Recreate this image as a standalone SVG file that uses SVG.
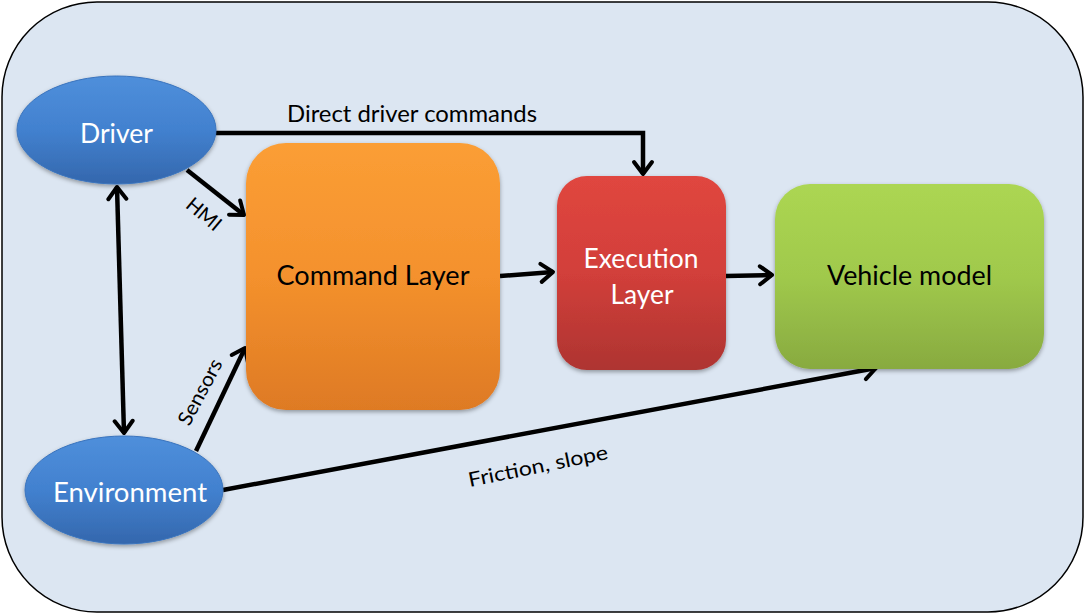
<svg xmlns="http://www.w3.org/2000/svg" width="1085" height="614" viewBox="0 0 1085 614">
<defs>
<linearGradient id="gBlue" x1="0" y1="0" x2="0" y2="1"><stop offset="0" stop-color="#4f8fdb"/><stop offset="0.5" stop-color="#4281cf"/><stop offset="1" stop-color="#3467ad"/></linearGradient>
<linearGradient id="gOrange" x1="0" y1="0" x2="0" y2="1"><stop offset="0" stop-color="#fb9e35"/><stop offset="0.5" stop-color="#f4912d"/><stop offset="1" stop-color="#de7a24"/></linearGradient>
<linearGradient id="gRed" x1="0" y1="0" x2="0" y2="1"><stop offset="0" stop-color="#e0463f"/><stop offset="0.5" stop-color="#d23f3a"/><stop offset="1" stop-color="#ae3431"/></linearGradient>
<linearGradient id="gGreen" x1="0" y1="0" x2="0" y2="1"><stop offset="0" stop-color="#acd652"/><stop offset="0.5" stop-color="#a0c94c"/><stop offset="1" stop-color="#88aa40"/></linearGradient>
<filter id="sh" x="-10%" y="-10%" width="120%" height="125%"><feDropShadow dx="0" dy="2" stdDeviation="2" flood-color="#000" flood-opacity="0.35"/></filter>
<marker id="ah" markerUnits="userSpaceOnUse" viewBox="-16 -12 20 24" refX="0" refY="0" markerWidth="20" markerHeight="24" orient="auto-start-reverse">
<path d="M-12,-9 L0,0 L-12,9" fill="none" stroke="#000" stroke-width="4" stroke-linecap="round" stroke-linejoin="round"/>
</marker>
<style>
.lbl{font-family:Lato,"Liberation Sans",sans-serif;fill:#000}
.wt{font-family:Lato,"Liberation Sans",sans-serif;fill:#fff}
.con{fill:none;stroke:#000;stroke-width:4.5;marker-end:url(#ah)}
</style>
</defs>
<rect x="2" y="2" width="1081" height="610" rx="95" ry="95" fill="#dce6f2" stroke="#000" stroke-width="1.5"/>
<g id="connectors">
<path class="con" d="M216,133 H643 V174"/>
<path class="con" d="M187,170 L244,215"/>
<path class="con" d="M117,187 L124,433" style="marker-start:url(#ah)"/>
<path class="con" d="M196,451 L245,348"/>
<path class="con" d="M500,276 L553,272"/>
<path class="con" d="M726,276 L772,275"/>
<path class="con" d="M223,490 L876,368"/>
<text class="lbl" x="412" y="122" font-size="23" text-anchor="middle" textLength="250" lengthAdjust="spacingAndGlyphs">Direct driver commands</text>
<text class="lbl" font-size="20" text-anchor="middle" transform="translate(204,214) rotate(40)" y="7">HMI</text>
<text class="lbl" font-size="20" text-anchor="middle" transform="translate(200,392) rotate(-62)" y="7" textLength="72" lengthAdjust="spacingAndGlyphs">Sensors</text>
<text class="lbl" font-size="20" text-anchor="middle" transform="translate(538,466) rotate(-11.5)" y="7" textLength="142" lengthAdjust="spacingAndGlyphs">Friction, slope</text>
</g>
<g id="driver">
<ellipse cx="116.5" cy="130" rx="99.5" ry="54" fill="url(#gBlue)" stroke="#3a74bd" stroke-width="1" filter="url(#sh)"/>
<text class="wt" x="116.5" y="143" font-size="26" text-anchor="middle" textLength="73" lengthAdjust="spacingAndGlyphs">Driver</text>
</g>
<g id="environment">
<ellipse cx="124" cy="490" rx="99" ry="54" fill="url(#gBlue)" stroke="#3a74bd" stroke-width="1" filter="url(#sh)"/>
<text class="wt" x="130" y="502" font-size="26" text-anchor="middle" textLength="154" lengthAdjust="spacingAndGlyphs">Environment</text>
</g>
<g id="command">
<rect x="246" y="143" width="254" height="267" rx="40" ry="40" fill="url(#gOrange)" filter="url(#sh)"/>
<text class="lbl" x="373" y="285" font-size="26" text-anchor="middle" textLength="193" lengthAdjust="spacingAndGlyphs">Command Layer</text>
</g>
<g id="execution">
<rect x="557" y="176" width="169" height="194" rx="30" ry="30" fill="url(#gRed)" filter="url(#sh)"/>
<text class="wt" x="641" y="268" font-size="26" text-anchor="middle" textLength="115" lengthAdjust="spacingAndGlyphs">Execution</text>
<text class="wt" x="642" y="304" font-size="26" text-anchor="middle" textLength="63" lengthAdjust="spacingAndGlyphs">Layer</text>
</g>
<g id="vehicle">
<rect x="775" y="184" width="269" height="185" rx="35" ry="35" fill="url(#gGreen)" filter="url(#sh)"/>
<text class="lbl" x="909.5" y="285" font-size="26" text-anchor="middle" textLength="165" lengthAdjust="spacingAndGlyphs">Vehicle model</text>
</g>
</svg>
